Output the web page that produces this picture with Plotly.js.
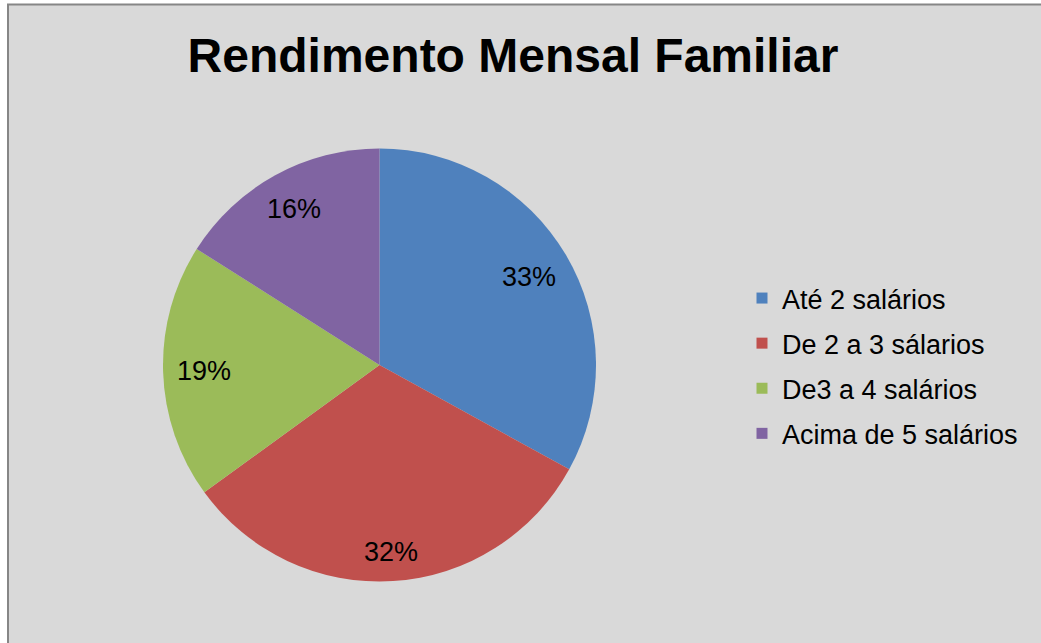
<!DOCTYPE html>
<html>
<head>
<meta charset="utf-8">
<script src="https://cdn.plot.ly/plotly-3.0.1.min.js"></script>
<style>
html,body{margin:0;padding:0;background:#ffffff;}
#chart{width:1041px;height:643px;}
</style>
</head>
<body>
<div id="chart"></div>
<script>
const categories = ["Até 2 salários", "De 2 a 3 sálarios", "De3 a 4 salários", "Acima de 5 salários"];
const values = [33, 32, 19, 16];
const colors = ["#4f81bd", "#c0504d", "#9bbb59", "#8064a2"];
const chartTitle = "Rendimento Mensal Familiar";

const W = 1041, H = 643;
const cx = 379.5, cy = 365, r = 216.5;
const FONT = "Liberation Sans, Arial, sans-serif";
const labelSize = 27;

const pieTrace = {
  type: "pie",
  labels: categories,
  values: values,
  sort: false,
  direction: "clockwise",
  rotation: 0,
  marker: {colors: colors, line: {width: 0}},
  textinfo: "none",
  showlegend: false,
  hoverinfo: "label+percent",
  domain: {x: [(cx - r) / W, (cx + r) / W], y: [1 - (cy + r) / H, 1 - (cy - r) / H]}
};

// legend entries (one per slice, so their spacing can be set)
const legendTraces = categories.map((c, i) => ({
  type: "scatter", x: [null], y: [null], mode: "markers",
  name: c, legendgroup: "g" + i, showlegend: true,
  marker: {symbol: "square", size: 11, color: colors[i]},
  hoverinfo: "skip"
}));

// percent labels placed at each slice's mid-angle (Excel "best fit" look)
const total = values.reduce((a, b) => a + b, 0);
let cum = 0;
const annotations = values.map((v) => {
  const mid = (cum + v / 2) / total * 2 * Math.PI;
  cum += v;
  const txt = Math.round(v / total * 100) + "%";
  const hw = txt.length * 0.5 * labelSize * 0.62, hh = labelSize * 0.46;
  const s = Math.sin(mid), c = Math.cos(mid);
  const d = 0.93 * r - (Math.abs(s) * hw + Math.abs(c) * hh);
  const px = cx + d * s, py = cy - d * c;
  return {
    xref: "paper", yref: "paper", x: px / W, y: 1 - py / H,
    xanchor: "center", yanchor: "middle", showarrow: false,
    text: txt, font: {family: FONT, size: labelSize, color: "#000000"}
  };
});

const layout = {
  width: W, height: H,
  margin: {l: 0, r: 0, t: 0, b: 0},
  paper_bgcolor: "#ffffff",
  plot_bgcolor: "rgba(0,0,0,0)",
  xaxis: {visible: false}, yaxis: {visible: false},
  title: {
    text: "<b>" + chartTitle + "</b>",
    font: {family: FONT, size: 48, color: "#000000"},
    x: 513 / W, xanchor: "center",
    y: 1 - 55 / H, yanchor: "middle"
  },
  showlegend: true,
  legend: {
    x: 742 / W, xanchor: "left",
    y: 1 - 274 / H, yanchor: "top",
    bgcolor: "rgba(0,0,0,0)",
    font: {family: FONT, size: 27, color: "#000000"},
    tracegroupgap: 7,
    itemsizing: "trace",
    itemwidth: 30
  },
  annotations: annotations,
  shapes: [{
    type: "rect", xref: "paper", yref: "paper",
    x0: 8 / W, x1: 1.02, y0: -0.02, y1: 1 - 4.5 / H,
    fillcolor: "#d9d9d9", line: {color: "#868686", width: 2}, layer: "below"
  }]
};

Plotly.newPlot("chart", [pieTrace].concat(legendTraces), layout, {displayModeBar: false, staticPlot: true});
</script>
</body>
</html>
